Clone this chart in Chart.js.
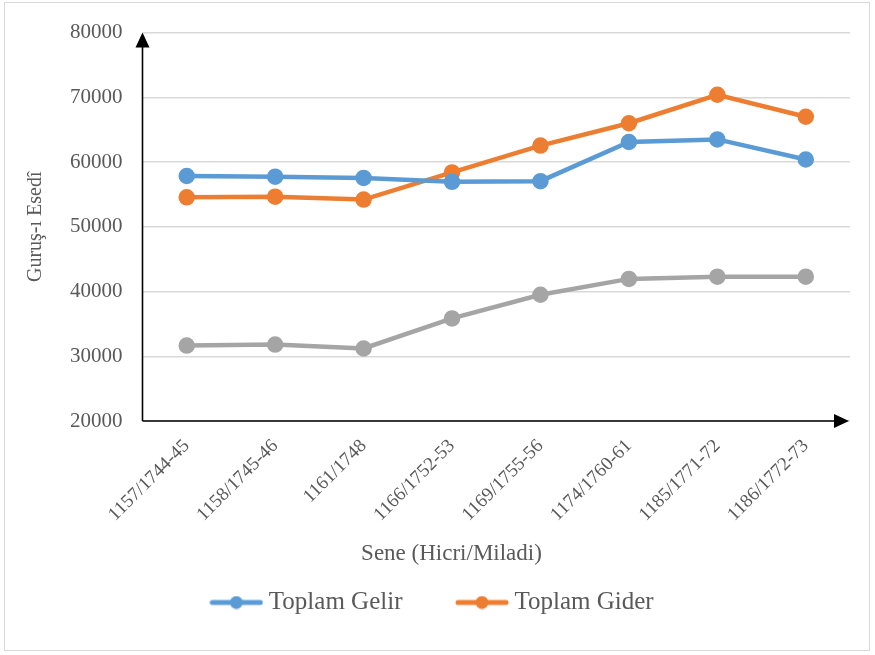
<!DOCTYPE html>
<html lang="tr">
<head>
<meta charset="UTF-8">
<title>Toplam Gelir / Gider</title>
<script src="https://cdn.jsdelivr.net/npm/chart.js"></script>
<style>
  body { margin: 0; background: #fff; }
  #wrap { position: relative; width: 875px; height: 655px; }
  #frame { position: absolute; left: 4px; top: 2px; width: 866px; height: 649px; border: 1px solid #d9d9d9; box-sizing: border-box; pointer-events: none; }
</style>
</head>
<body>
<div id="wrap">
  <canvas id="chart" width="875" height="655"></canvas>
  <div id="frame"></div>
</div>
<script>
const categories = ['1157/1744-45', '1158/1745-46', '1161/1748', '1166/1752-53', '1169/1755-56', '1174/1760-61', '1185/1771-72', '1186/1772-73'];
const gelir = [57850, 57750, 57550, 56950, 57050, 63100, 63500, 60400];
const gider = [54550, 54650, 54200, 58400, 62550, 66000, 70400, 67000];
const fark = [31650, 31800, 31200, 35850, 39500, 41950, 42300, 42300];
const yTicks = [20000, 30000, 40000, 50000, 60000, 70000, 80000];
const xTitle = 'Sene (Hicri/Miladi)';

const FONT = '"Liberation Serif", "DejaVu Serif", serif';
const TEXT = '#595959';

function legendIcon(color) {
  const c = document.createElement('canvas');
  c.width = 54; c.height = 14;
  const g = c.getContext('2d');
  g.strokeStyle = color; g.lineWidth = 5; g.lineCap = 'round';
  g.beginPath(); g.moveTo(3, 7); g.lineTo(51, 7); g.stroke();
  g.fillStyle = color;
  g.beginPath(); g.arc(27, 7, 6.5, 0, Math.PI * 2); g.fill();
  return c;
}

// black axes with arrow heads + x title (sits left of the plot centre in the original)
const arrowAxes = {
  id: 'arrowAxes',
  afterDatasetsDraw(chart) {
    const { ctx, chartArea: a } = chart;
    ctx.save();
    ctx.strokeStyle = '#000'; ctx.fillStyle = '#000'; ctx.lineWidth = 1.6;
    ctx.beginPath();
    ctx.moveTo(a.left, a.bottom); ctx.lineTo(a.left, a.top + 10);
    ctx.moveTo(a.left, a.bottom); ctx.lineTo(a.right - 12, a.bottom);
    ctx.stroke();
    ctx.beginPath();
    ctx.moveTo(a.left, a.top); ctx.lineTo(a.left - 7, a.top + 15); ctx.lineTo(a.left + 7, a.top + 15); ctx.closePath();
    ctx.moveTo(a.right - 1, a.bottom); ctx.lineTo(a.right - 16, a.bottom - 7); ctx.lineTo(a.right - 16, a.bottom + 7); ctx.closePath();
    ctx.fill();

    ctx.fillStyle = TEXT;
    ctx.font = '23px ' + FONT;
    ctx.textAlign = 'center';
    ctx.textBaseline = 'middle';
    ctx.fillText(xTitle, chart.width / 2 + 14, chart.scales.x.bottom - 14);
    ctx.restore();
  }
};

function series(label, data, color) {
  return {
    label, data,
    borderColor: color, backgroundColor: color,
    borderWidth: 4.5, pointRadius: 6, pointHoverRadius: 6,
    tension: 0
  };
}

const ds = [
  series('Toplam Gelir', gelir, '#5b9bd5'),
  series('Toplam Gider', gider, '#ed7d31'),
  series('Fark', fark, '#a5a5a5')
];

new Chart(document.getElementById('chart'), {
  type: 'line',
  data: { labels: categories, datasets: ds },
  options: {
    responsive: false,
    animation: false,
    layout: { padding: { left: 20, right: 25, top: 20, bottom: 30 } },
    plugins: {
      legend: {
        position: 'bottom',
        labels: {
          filter: item => item.datasetIndex < 2,
          usePointStyle: true,
          pointStyleWidth: 40,
          generateLabels(chart) {
            return chart.data.datasets.map((d, i) => ({
              // extra space after the first entry widens the gap between the two items
              text: d.label + (i === 0 ? '\u2003\u2002' : ''), datasetIndex: i,
              pointStyle: legendIcon(d.borderColor),
              fontColor: TEXT, lineWidth: 0, strokeStyle: 'transparent', fillStyle: d.borderColor
            }));
          },
          font: { family: FONT, size: 25 },
          color: TEXT,
          padding: 22
        }
      },
      tooltip: { enabled: false }
    },
    scales: {
      x: {
        offset: true,
        grid: { display: false },
        border: { display: false },
        ticks: { color: TEXT, font: { family: FONT, size: 19 }, maxRotation: 45, minRotation: 45, padding: 6 },
        afterFit(scale) { scale.height += 36; }
      },
      y: {
        min: 20000, max: 80000,
        afterBuildTicks(axis) { axis.ticks = yTicks.map(v => ({ value: v })); },
        grid: { color: '#d9d9d9', lineWidth: 1.5, drawTicks: false },
        border: { display: false },
        ticks: { color: TEXT, font: { family: FONT, size: 21 }, padding: 20, callback: v => String(v) },
        title: { display: true, text: 'Guruş-ı Esedî', color: TEXT, font: { family: FONT, size: 20 }, padding: { bottom: 2 } }
      }
    }
  },
  plugins: [arrowAxes]
});
</script>
</body>
</html>
